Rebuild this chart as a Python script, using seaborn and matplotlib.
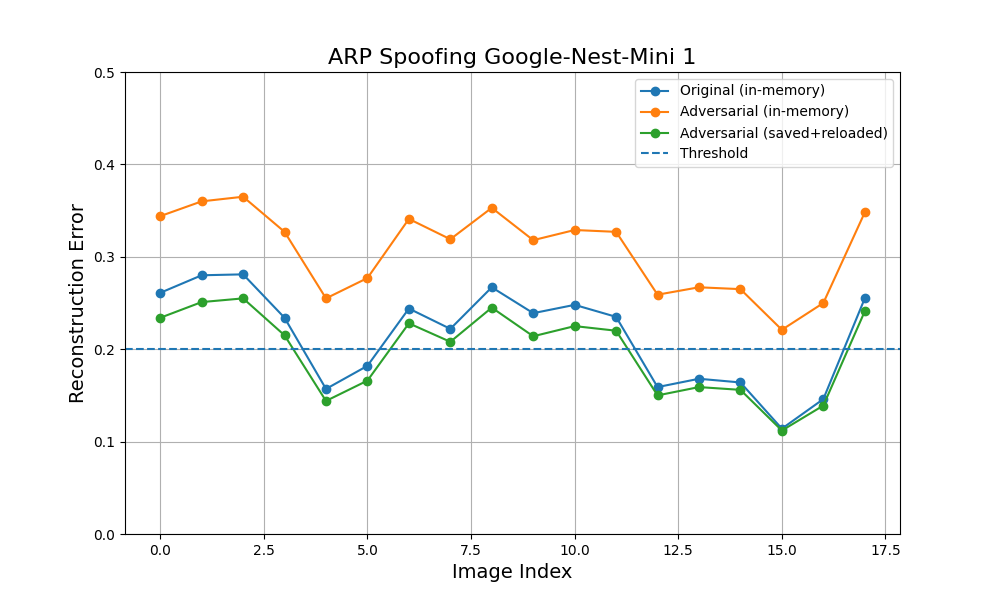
import matplotlib
matplotlib.use("Agg")
import matplotlib.pyplot as plt
import numpy as np
import pandas as pd
import seaborn as sns

TITLE = "ARP Spoofing Google-Nest-Mini 1"
THRESHOLD = 0.2

image_index = list(range(18))
original_err = [0.261, 0.280, 0.281, 0.234, 0.157, 0.182, 0.244, 0.222, 0.267,
                0.239, 0.248, 0.235, 0.159, 0.168, 0.164, 0.114, 0.146, 0.255]
adversarial_err = [0.344, 0.360, 0.365, 0.327, 0.255, 0.277, 0.341, 0.319, 0.353,
                   0.318, 0.329, 0.327, 0.259, 0.267, 0.265, 0.221, 0.250, 0.348]
reloaded_err = [0.234, 0.251, 0.255, 0.215, 0.144, 0.166, 0.228, 0.208, 0.245,
                0.214, 0.225, 0.220, 0.150, 0.159, 0.156, 0.112, 0.139, 0.241]

series = [
    ("Original (in-memory)", original_err, "#1f77b4"),
    ("Adversarial (in-memory)", adversarial_err, "#ff7f0e"),
    ("Adversarial (saved+reloaded)", reloaded_err, "#2ca02c"),
]

fig, ax = plt.subplots(figsize=(10, 6), dpi=100)

for label, values, color in series:
    df = pd.DataFrame({"idx": image_index, "err": values})
    sns.lineplot(data=df, x="idx", y="err", ax=ax, color=color, marker="o",
                 markersize=6, markeredgecolor=color, markeredgewidth=1,
                 linewidth=1.5, label=label)

ax.axhline(THRESHOLD, linestyle="--", color="#1f77b4", linewidth=1.5, label="Threshold")

ax.set_ylim(0, 0.5)
ax.set_title(TITLE, fontsize=16)
ax.set_xlabel("Image Index", fontsize=14)
ax.set_ylabel("Reconstruction Error", fontsize=14)
ax.grid(True)
ax.legend(loc="upper right")

fig.savefig("out.png", dpi=100)
plt.close(fig)
